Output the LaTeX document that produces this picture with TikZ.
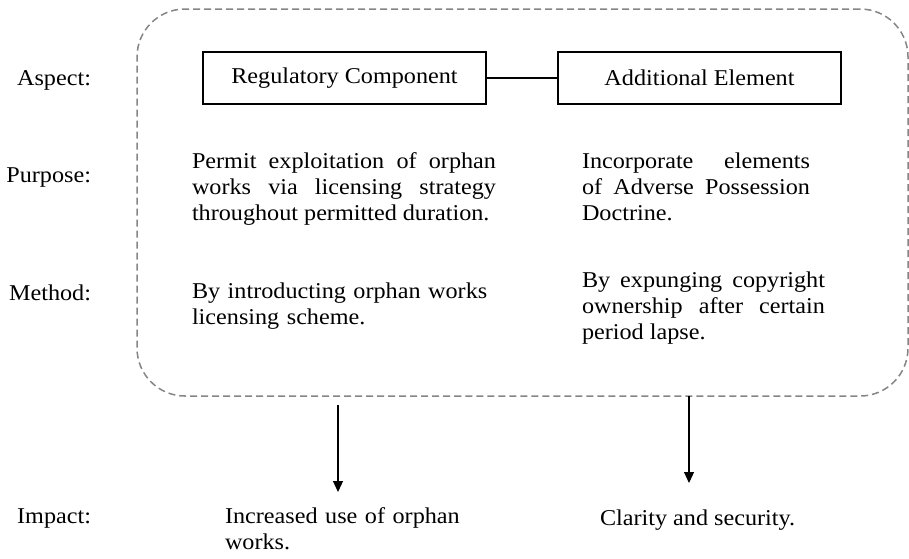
\documentclass[tikz,border=0pt]{standalone}
\usepackage{fontspec}
\setmainfont{Liberation Serif}[FakeStretch=1.07]
\usetikzlibrary{arrows.meta}
\definecolor{dashgray}{HTML}{858585}
\begin{document}
\begin{tikzpicture}[x=1pt,y=-1pt,
  txt/.style={inner sep=0pt, outer sep=0pt, font=\fontsize{22.6}{26}\selectfont},
  lbl/.style={txt, anchor=base east},
  para/.style={txt, anchor=base west, align=justify},
  lpara/.style={txt, anchor=base west, align=left},
  aspectbox/.style={draw, line width=1.3pt, minimum width=283pt, minimum height=52pt, inner sep=0pt, font=\fontsize{22.6}{26}\selectfont},
  frame/.style={draw=dashgray, line width=1.5pt, dash pattern=on 7pt off 4pt, rounded corners=48pt, minimum width=771pt, minimum height=387pt, inner sep=0pt},
  arr/.style={line width=1.1pt, -{Triangle[length=11pt,width=10pt]}}
]
\useasboundingbox (0,0) rectangle (909,558);
\hyphenpenalty=10000 \exhyphenpenalty=10000

% frame
\node[frame] (frame) at (522.5,202.5) {};

% row labels
\node[lbl] (laspect) at (91,85) {Aspect:};
\node[lbl] (lpurpose) at (91,182) {Purpose:};
\node[lbl] (lmethod) at (91,300) {Method:};
\node[lbl] (limpact) at (91,523) {Impact:};

% aspect boxes
\node[aspectbox] (reg) at (344.5,78) {Regulatory Component};
\node[aspectbox] (add) at (699.5,78) {Additional Element};
\draw[line width=1.1pt] (reg.east) -- (add.west);

% purpose
\node[para, text width=304pt] (p1) at (192,168)
  {\hyphenpenalty=10000 Permit exploitation of orphan works via licensing strategy throughout permitted duration.\par};
\node[para, text width=228pt] (p2) at (582,168)
  {\hyphenpenalty=10000 Incorporate elements\linebreak of Adverse Possession\linebreak Doctrine.\par};

% method
\node[lpara, text width=320pt] (m1) at (192,298)
  {By introducting orphan works\\licensing scheme.};
\node[para, text width=243pt] (m2) at (582,287)
  {\hyphenpenalty=10000 By expunging copyright\linebreak ownership after certain\linebreak period lapse.\par};

% impact
\node[lpara, text width=260pt] (i1) at (225,523)
  {Increased use of orphan\\works.};
\node[txt, anchor=base west] (i2) at (600,525) {Clarity and security.};

% arrows
\coordinate (a1s) at (338,405);
\coordinate (a1e) at (338,492);
\coordinate (a2s) at (689,396);
\coordinate (a2e) at (689,483);
\draw[arr] (a1s) -- (a1e);
\draw[arr] (a2s) -- (a2e);
\end{tikzpicture}
\end{document}
